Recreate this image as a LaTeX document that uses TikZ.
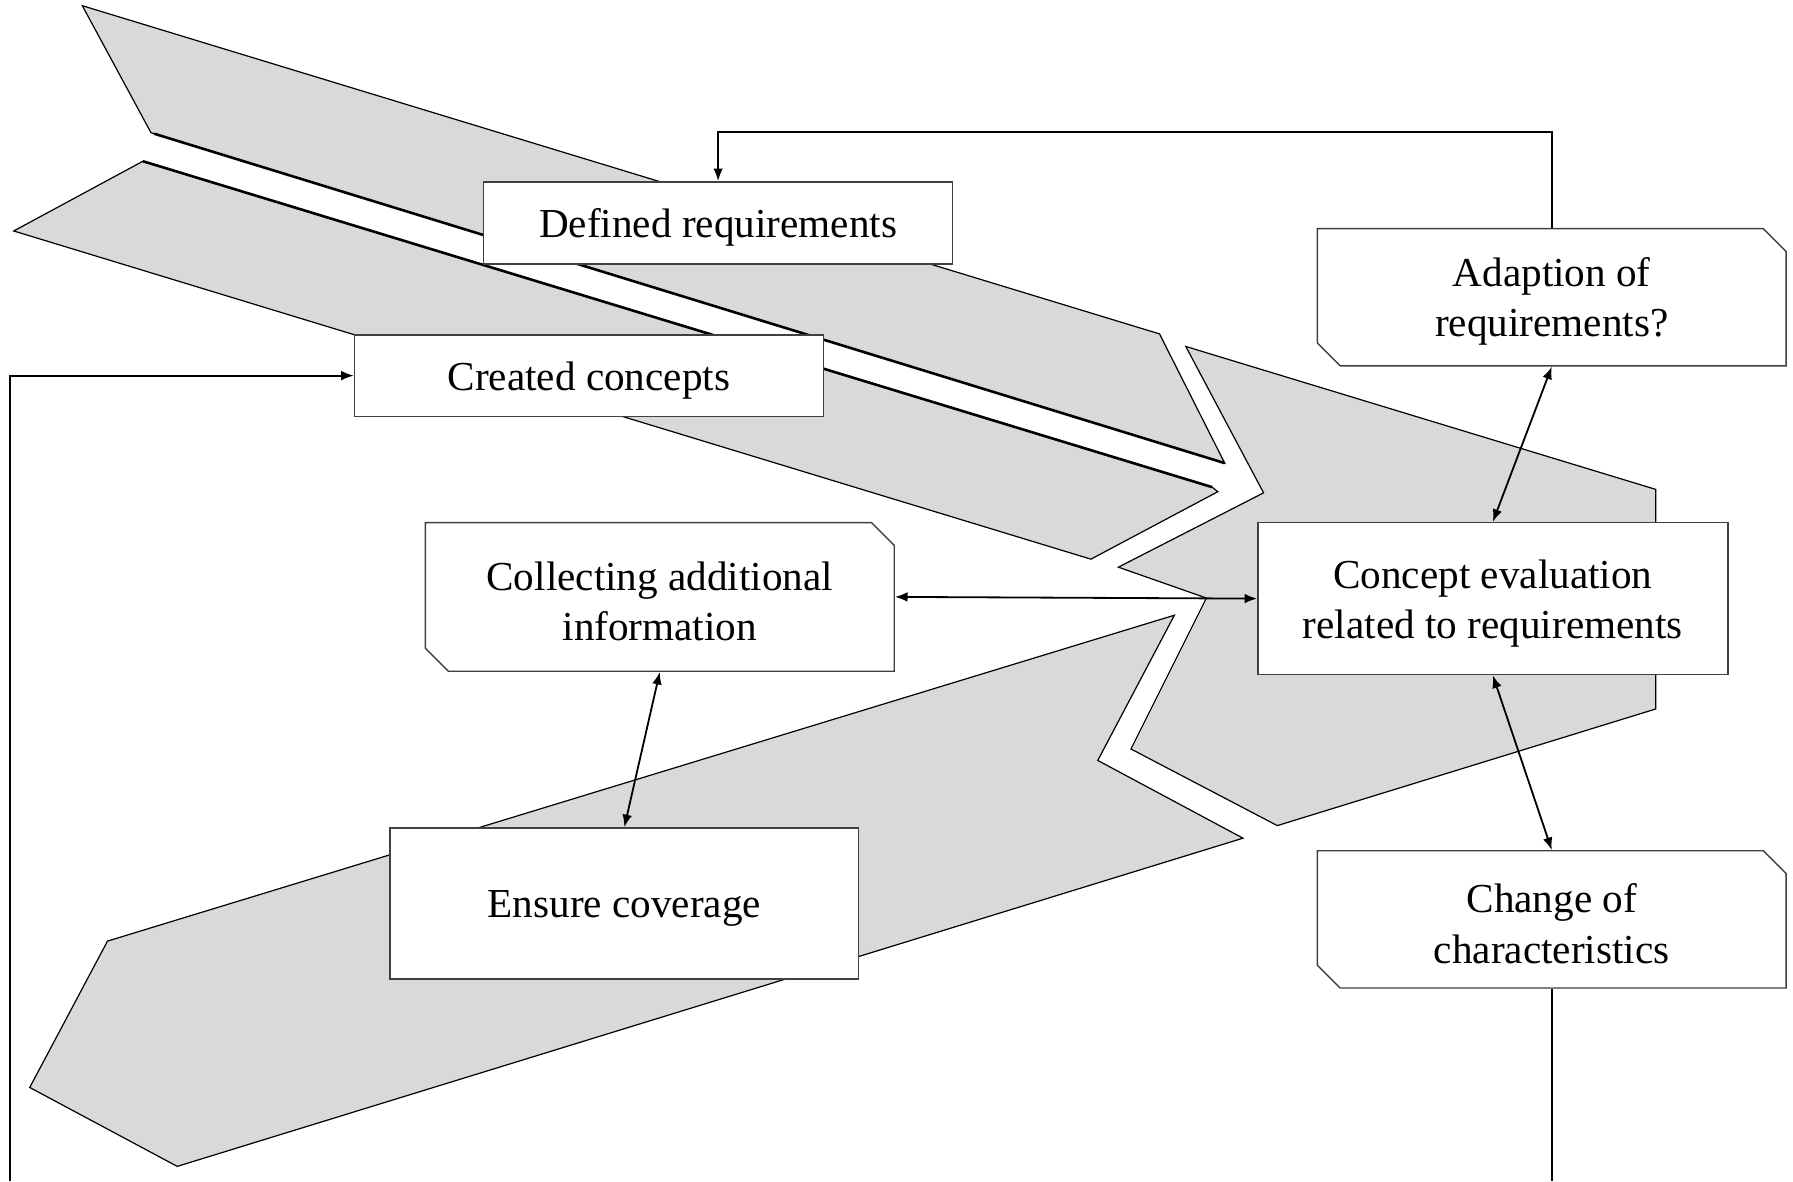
\documentclass[tikz,border=0pt]{standalone}
\usepackage{fontspec}
\setmainfont{Liberation Serif}
\usetikzlibrary{shapes.misc, positioning, arrows.meta}

\definecolor{bandgray}{RGB}{217,217,217}
\newcommand{\lift}{\rule{0pt}{9.4pt}}

\begin{document}
\begin{tikzpicture}[
    font=\fontsize{10.25}{12.5}\selectfont,
    band/.style={fill=bandgray, draw=black, line width=0.3pt, line join=miter},
    edgeline/.style={draw=black, line width=0.65pt},
    box/.style={draw=black!75, fill=white, line width=0.35pt, align=center,
      minimum width=4.1cm, inner sep=0pt},
    cutbox/.style={box, chamfered rectangle,
      chamfered rectangle corners={north east, south west},
      chamfered rectangle xsep=0.1cm, chamfered rectangle ysep=0.1cm},
    arr/.style={-{Latex[length=1.1mm, width=0.85mm]}, line width=0.45pt},
    darr/.style={{Latex[length=1.1mm, width=0.85mm]}-{Latex[length=1.1mm, width=0.85mm]}, line width=0.45pt}
  ]
  \def\picw{15.68}
  \def\pich{10.33}
  \useasboundingbox (0,0) rectangle (\picw,\pich);

  % Draw the gray bands in the background
  \fill[band] (0.72,10.28) -- (10.14,7.41) -- (10.71,6.28) -- (1.35,9.16) -- (1.32,9.17) -- cycle;
  \draw[edgeline] (1.35,9.16) -- (10.71,6.28);
  \fill[band] (1.25,8.92) -- (10.60,6.07) -- (10.65,6.03) -- (9.54,5.44) -- (0.12,8.31) -- cycle;
  \draw[edgeline] (1.25,8.92) -- (10.60,6.07);
  \fill[band] (10.37,7.30) -- (14.48,6.05) -- (14.48,4.13) -- (11.17,3.11) -- (9.89,3.78)
    -- (10.55,5.10) -- (9.78,5.37) -- (11.05,6.02) -- cycle;
  \fill[band] (10.27,4.95) -- (9.60,3.68) -- (10.87,3.00) -- (1.55,0.13) -- (0.26,0.82)
    -- (0.94,2.10) -- cycle;

  % Draw the boxes
  \node[box, minimum height=0.72cm] (defreq) at (6.28,8.38) {\lift Defined requirements};
  \node[box, minimum height=0.71cm] (created) at (5.15,7.045) {\lift Created concepts};
  \node[cutbox, minimum height=1.2cm] (adapt) at (13.57,7.73) {\lift Adaption of\\requirements?};
  \node[box, minimum width=4.11cm, minimum height=1.33cm] (evaluate) at (13.055,5.095)
    {\lift Concept evaluation\\related to requirements};
  \node[cutbox, minimum height=1.3cm] (collect) at (5.77,5.11) {\lift Collecting additional\\information};
  \node[box, minimum height=1.32cm] (coverage) at (5.46,2.43) {\lift Ensure coverage};
  \node[cutbox, minimum height=1.2cm] (change) at (13.57,2.29) {\lift Change of\\characteristics};

  % Free ends of the feedback lines at the lower edge
  \coordinate (loopin) at (0.09,0);
  \coordinate (loopout) at (13.57,0);

  % Draw the connectors
  \draw[arr] (adapt.north) -- ++(0,0.84) -| (defreq.north);
  \draw[arr] (loopin) |- (created.west);
  \draw[line width=0.45pt] (change.south) -- (loopout);
  \draw[darr] (collect.east) -- (evaluate.west);
  \draw[darr] (collect.south) -- (coverage.north);
  \draw[darr] (adapt.south) -- (evaluate.north);
  \draw[darr] (evaluate.south) -- (change.north);
\end{tikzpicture}
\end{document}
